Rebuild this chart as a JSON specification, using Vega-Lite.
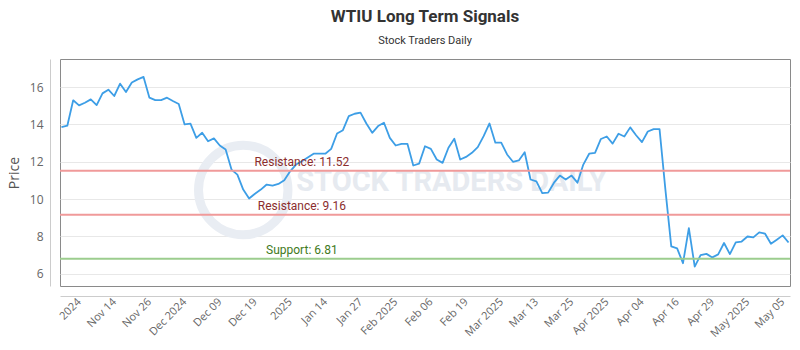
{
  "$schema": "https://vega.github.io/schema/vega-lite/v6.json",
  "width": 730,
  "height": 227,
  "autosize": {"type": "none"},
  "padding": {"left": 60, "top": 59, "right": 10, "bottom": 64},
  "background": "white",
  "config": {
    "font": "Roboto",
    "view": {"stroke": "#8a8a8a", "strokeWidth": 1}
  },
  "title": {
    "text": "WTIU Long Term Signals",
    "subtitle": "Stock Traders Daily",
    "font": "Roboto",
    "fontSize": 17,
    "fontWeight": "bold",
    "color": "#333333",
    "subtitleFont": "Roboto",
    "subtitleFontSize": 11,
    "subtitleColor": "#333333",
    "anchor": "middle",
    "offset": 12,
    "subtitlePadding": 9
  },
  "data": {
    "values": [
      {"date": "2024-11-01", "price": 13.85},
      {"date": "2024-11-04", "price": 13.93},
      {"date": "2024-11-05", "price": 15.29},
      {"date": "2024-11-06", "price": 15.02},
      {"date": "2024-11-07", "price": 15.16},
      {"date": "2024-11-08", "price": 15.34},
      {"date": "2024-11-11", "price": 15.03},
      {"date": "2024-11-12", "price": 15.66},
      {"date": "2024-11-13", "price": 15.86},
      {"date": "2024-11-14", "price": 15.52},
      {"date": "2024-11-15", "price": 16.18},
      {"date": "2024-11-18", "price": 15.73},
      {"date": "2024-11-19", "price": 16.24},
      {"date": "2024-11-20", "price": 16.41},
      {"date": "2024-11-21", "price": 16.54},
      {"date": "2024-11-22", "price": 15.43},
      {"date": "2024-11-25", "price": 15.30},
      {"date": "2024-11-26", "price": 15.30},
      {"date": "2024-11-27", "price": 15.43},
      {"date": "2024-11-29", "price": 15.25},
      {"date": "2024-12-02", "price": 15.09},
      {"date": "2024-12-03", "price": 14.00},
      {"date": "2024-12-04", "price": 14.04},
      {"date": "2024-12-05", "price": 13.28},
      {"date": "2024-12-06", "price": 13.55},
      {"date": "2024-12-09", "price": 13.10},
      {"date": "2024-12-10", "price": 13.25},
      {"date": "2024-12-11", "price": 12.87},
      {"date": "2024-12-12", "price": 12.66},
      {"date": "2024-12-13", "price": 11.58},
      {"date": "2024-12-16", "price": 11.31},
      {"date": "2024-12-17", "price": 10.51},
      {"date": "2024-12-18", "price": 10.03},
      {"date": "2024-12-19", "price": 10.29},
      {"date": "2024-12-20", "price": 10.51},
      {"date": "2024-12-23", "price": 10.78},
      {"date": "2024-12-24", "price": 10.72},
      {"date": "2024-12-26", "price": 10.81},
      {"date": "2024-12-27", "price": 11.01},
      {"date": "2024-12-30", "price": 11.49},
      {"date": "2024-12-31", "price": 11.85},
      {"date": "2025-01-02", "price": 12.03},
      {"date": "2025-01-03", "price": 12.23},
      {"date": "2025-01-06", "price": 12.43},
      {"date": "2025-01-07", "price": 12.43},
      {"date": "2025-01-08", "price": 12.43},
      {"date": "2025-01-10", "price": 12.69},
      {"date": "2025-01-13", "price": 13.51},
      {"date": "2025-01-14", "price": 13.69},
      {"date": "2025-01-15", "price": 14.44},
      {"date": "2025-01-16", "price": 14.57},
      {"date": "2025-01-17", "price": 14.63},
      {"date": "2025-01-21", "price": 14.05},
      {"date": "2025-01-22", "price": 13.55},
      {"date": "2025-01-23", "price": 13.91},
      {"date": "2025-01-24", "price": 14.09},
      {"date": "2025-01-27", "price": 13.28},
      {"date": "2025-01-28", "price": 12.87},
      {"date": "2025-01-29", "price": 12.96},
      {"date": "2025-01-30", "price": 12.96},
      {"date": "2025-01-31", "price": 11.80},
      {"date": "2025-02-03", "price": 11.90},
      {"date": "2025-02-04", "price": 12.83},
      {"date": "2025-02-05", "price": 12.69},
      {"date": "2025-02-06", "price": 12.12},
      {"date": "2025-02-07", "price": 11.94},
      {"date": "2025-02-10", "price": 12.75},
      {"date": "2025-02-11", "price": 13.23},
      {"date": "2025-02-12", "price": 12.12},
      {"date": "2025-02-13", "price": 12.26},
      {"date": "2025-02-14", "price": 12.48},
      {"date": "2025-02-18", "price": 12.78},
      {"date": "2025-02-19", "price": 13.37},
      {"date": "2025-02-20", "price": 14.05},
      {"date": "2025-02-21", "price": 13.02},
      {"date": "2025-02-24", "price": 13.02},
      {"date": "2025-02-25", "price": 12.39},
      {"date": "2025-02-26", "price": 12.00},
      {"date": "2025-02-27", "price": 12.07},
      {"date": "2025-02-28", "price": 12.51},
      {"date": "2025-03-03", "price": 11.05},
      {"date": "2025-03-04", "price": 10.95},
      {"date": "2025-03-05", "price": 10.32},
      {"date": "2025-03-06", "price": 10.35},
      {"date": "2025-03-07", "price": 10.88},
      {"date": "2025-03-10", "price": 11.26},
      {"date": "2025-03-11", "price": 11.05},
      {"date": "2025-03-12", "price": 11.26},
      {"date": "2025-03-13", "price": 10.88},
      {"date": "2025-03-14", "price": 11.85},
      {"date": "2025-03-17", "price": 12.43},
      {"date": "2025-03-18", "price": 12.48},
      {"date": "2025-03-19", "price": 13.22},
      {"date": "2025-03-20", "price": 13.35},
      {"date": "2025-03-21", "price": 12.97},
      {"date": "2025-03-24", "price": 13.50},
      {"date": "2025-03-25", "price": 13.35},
      {"date": "2025-03-26", "price": 13.84},
      {"date": "2025-03-27", "price": 13.42},
      {"date": "2025-03-28", "price": 13.05},
      {"date": "2025-03-31", "price": 13.62},
      {"date": "2025-04-01", "price": 13.75},
      {"date": "2025-04-02", "price": 13.75},
      {"date": "2025-04-03", "price": 10.51},
      {"date": "2025-04-04", "price": 7.47},
      {"date": "2025-04-07", "price": 7.36},
      {"date": "2025-04-08", "price": 6.57},
      {"date": "2025-04-09", "price": 8.45},
      {"date": "2025-04-10", "price": 6.39},
      {"date": "2025-04-11", "price": 7.00},
      {"date": "2025-04-14", "price": 7.07},
      {"date": "2025-04-15", "price": 6.88},
      {"date": "2025-04-16", "price": 7.04},
      {"date": "2025-04-17", "price": 7.65},
      {"date": "2025-04-21", "price": 7.06},
      {"date": "2025-04-22", "price": 7.68},
      {"date": "2025-04-23", "price": 7.73},
      {"date": "2025-04-24", "price": 8.00},
      {"date": "2025-04-25", "price": 7.95},
      {"date": "2025-04-28", "price": 8.22},
      {"date": "2025-04-29", "price": 8.15},
      {"date": "2025-04-30", "price": 7.61},
      {"date": "2025-05-01", "price": 7.83},
      {"date": "2025-05-02", "price": 8.06},
      {"date": "2025-05-05", "price": 7.68}
    ]
  },
  "layer": [
    {
      "data": {"values": [{"logo": "ring"}]},
      "mark": {"type": "point", "shape": "circle", "filled": false, "size": 8000, "strokeWidth": 9, "color": "#e9edf3", "opacity": 1},
      "encoding": {
        "x": {"datum": "2024-12-17", "type": "ordinal"},
        "y": {"datum": 10.49, "type": "quantitative"}
      }
    },
    {
      "data": {"values": [{"text": "STOCK TRADERS DAILY"}]},
      "mark": {"type": "text", "font": "Roboto", "fontWeight": "bold", "fontSize": 29, "color": "#e6eaf0", "align": "center", "baseline": "middle", "dx": 3},
      "encoding": {
        "x": {"datum": "2025-02-10", "type": "ordinal"},
        "y": {"datum": 10.92, "type": "quantitative"},
        "text": {"field": "text", "type": "nominal"}
      }
    },
    {
      "mark": {
        "type": "line",
        "color": "#3d9ee6",
        "strokeWidth": 1.8,
        "strokeJoin": "round"
      },
      "encoding": {
        "x": {
          "field": "date",
          "type": "ordinal",
          "sort": "ascending",
          "scale": {"type": "point", "padding": 0.25},
          "axis": {
            "title": null,
            "offset": 10,
            "ticks": false,
            "grid": false,
            "domainColor": "#cccccc",
            "labelAngle": -45,
            "labelFont": "Open Sans",
            "labelFontSize": 11,
            "labelColor": "#666666",
            "labelPadding": 4,
            "labelOverlap": false,
            "values": ["2024-11-06", "2024-11-14", "2024-11-22", "2024-12-03", "2024-12-11", "2024-12-19", "2024-12-30", "2025-01-08", "2025-01-17", "2025-01-28", "2025-02-05", "2025-02-13", "2025-02-24", "2025-03-04", "2025-03-12", "2025-03-20", "2025-03-28", "2025-04-07", "2025-04-15", "2025-04-24", "2025-05-02"],
            "labelExpr": "['2024','Nov 14','Nov 26','Dec 2024','Dec 09','Dec 19','2025','Jan 14','Jan 27','Feb 2025','Feb 06','Feb 19','Mar 2025','Mar 13','Mar 25','Apr 2025','Apr 04','Apr 16','Apr 29','May 2025','May 05'][indexof(['2024-11-06','2024-11-14','2024-11-22','2024-12-03','2024-12-11','2024-12-19','2024-12-30','2025-01-08','2025-01-17','2025-01-28','2025-02-05','2025-02-13','2025-02-24','2025-03-04','2025-03-12','2025-03-20','2025-03-28','2025-04-07','2025-04-15','2025-04-24','2025-05-02'], datum.value)]"
          }
        },
        "y": {
          "field": "price",
          "type": "quantitative",
          "scale": {"domain": [5.35, 17.5], "nice": false, "zero": false},
          "axis": {
            "title": "Price",
            "titleFont": "Open Sans",
            "titleFontSize": 14,
            "titleFontWeight": "normal",
            "titleColor": "#555555",
            "titlePadding": 8,
            "offset": 10,
            "ticks": false,
            "domainColor": "#cccccc",
            "grid": true,
            "gridColor": "#e8e8e8",
            "values": [6, 8, 10, 12, 14, 16],
            "labelFont": "Open Sans",
            "labelFontSize": 12,
            "labelColor": "#666666",
            "labelPadding": 7
          }
        }
      }
    },
    {
      "data": {
        "values": [
          {"kind": "Resistance", "value": 11.52, "label": "Resistance: 11.52"},
          {"kind": "Resistance", "value": 9.16, "label": "Resistance: 9.16"},
          {"kind": "Support", "value": 6.81, "label": "Support: 6.81"}
        ]
      },
      "layer": [
        {
          "mark": {"type": "rule", "strokeWidth": 2},
          "encoding": {
            "y": {"field": "value", "type": "quantitative"},
            "color": {"condition": {"test": "datum.kind === 'Support'", "value": "#9ccd8e"}, "value": "#f09a9a"}
          }
        },
        {
          "mark": {"type": "text", "font": "Roboto", "fontSize": 12, "align": "center", "baseline": "alphabetic", "dy": -5},
          "encoding": {
            "x": {"datum": "2025-01-02", "type": "ordinal"},
            "y": {"field": "value", "type": "quantitative"},
            "text": {"field": "label", "type": "nominal"},
            "color": {"condition": {"test": "datum.kind === 'Support'", "value": "#3f7a22"}, "value": "#8b2d2d"}
          }
        }
      ]
    }
  ]
}
